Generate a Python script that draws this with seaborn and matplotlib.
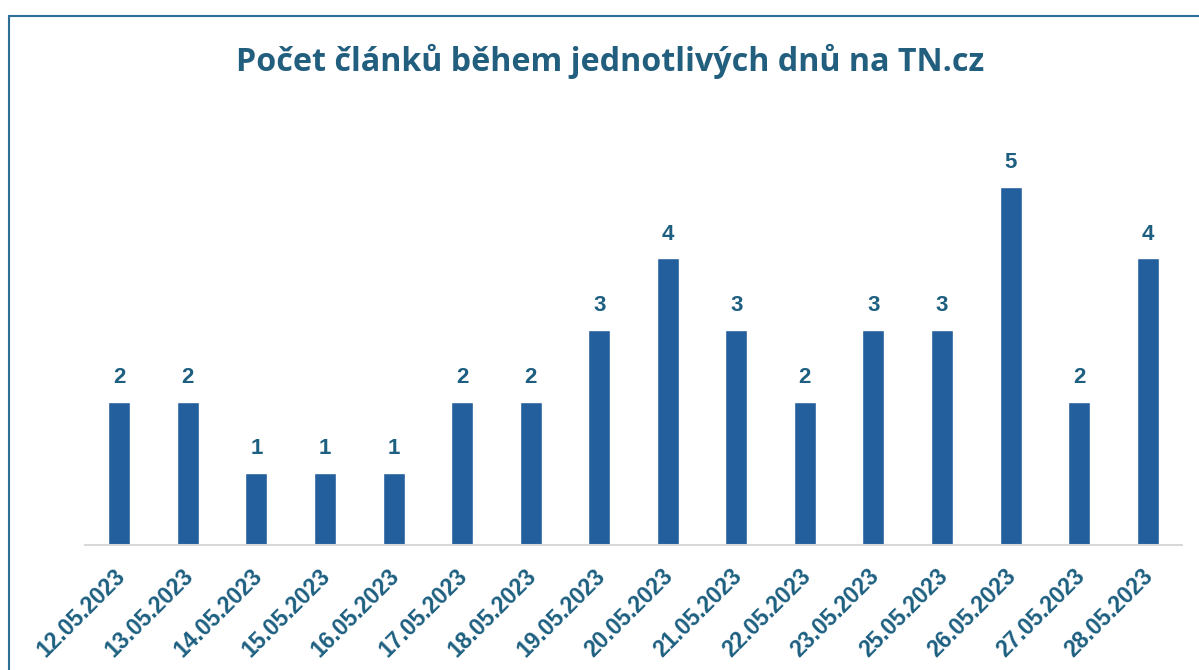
import matplotlib
matplotlib.use("Agg")
import matplotlib.pyplot as plt
import matplotlib.transforms as mtransforms
import seaborn as sns
import pandas as pd
from matplotlib.patches import Rectangle

dates = ["12.05.2023", "13.05.2023", "14.05.2023", "15.05.2023", "16.05.2023",
         "17.05.2023", "18.05.2023", "19.05.2023", "20.05.2023", "21.05.2023",
         "22.05.2023", "23.05.2023", "25.05.2023", "26.05.2023", "27.05.2023",
         "28.05.2023"]
counts = [2, 2, 1, 1, 1, 2, 2, 3, 4, 3, 2, 3, 3, 5, 2, 4]

title = "Počet článků během jednotlivých dnů na TN.cz"
bar_color = "#235F9D"
text_color = "#1D5F80"

sns.set_style("white")
plt.rcParams["font.family"] = ["Liberation Sans", "DejaVu Sans"]

df = pd.DataFrame({"datum": dates, "pocet": counts})

fig = plt.figure(figsize=(11.99, 6.7), dpi=100)
ax = fig.add_axes([0.0709, 0.1866, 0.9149, 0.588])

sns.barplot(data=df, x="datum", y="pocet", color=bar_color, width=0.32,
            saturation=1, ax=ax)

ax.set_xlim(-0.5, len(dates) - 0.5)
ax.set_ylim(0, 5.5)
ax.set_xlabel("")
ax.set_ylabel("")
ax.set_yticks([])
ax.tick_params(axis="x", length=0, pad=14)
shift = mtransforms.ScaledTranslation(-6 / 100, 0, fig.dpi_scale_trans)
for lbl in ax.get_xticklabels():
    lbl.set_rotation(45)
    lbl.set_ha("right")
    lbl.set_rotation_mode("anchor")
    lbl.set_fontsize(16.5)
    lbl.set_fontweight("bold")
    lbl.set_color(text_color)
    lbl.set_transform(lbl.get_transform() + shift)

for side in ["top", "left", "right"]:
    ax.spines[side].set_visible(False)
ax.spines["bottom"].set_color("#D9D9D9")
ax.spines["bottom"].set_linewidth(1.5)

ax.bar_label(ax.containers[0], padding=10, fontsize=16, fontweight="bold",
             color=text_color)

fig.text(0.509, 0.908, title, ha="center", va="center", fontsize=23.2,
         fontweight="bold", color="#225E7E", family=["Open Sans", "DejaVu Sans"])

# rámeček kolem grafu (pravá a spodní strana jsou mimo obrázek)
fig.add_artist(Rectangle((9 / 1199, -0.1), 1.2, 1.1 - 16 / 670,
                         transform=fig.transFigure, fill=False,
                         edgecolor="#2E6F96", linewidth=1.5))

fig.savefig("out.png", dpi=100)
